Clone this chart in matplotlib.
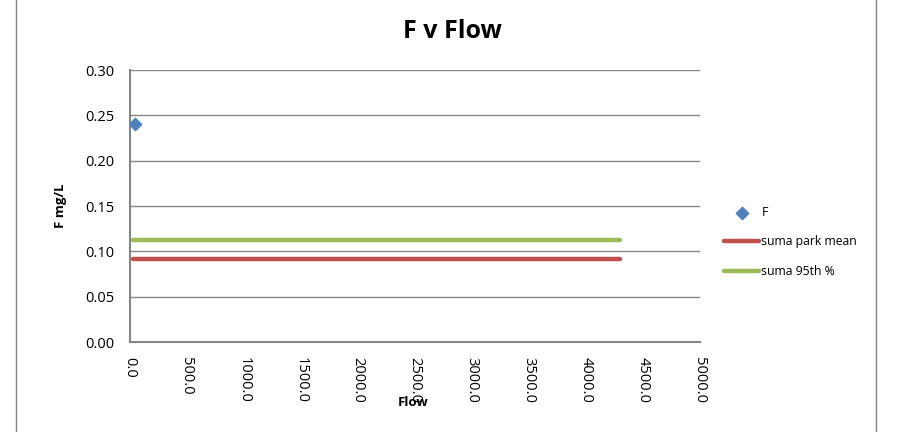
import matplotlib.pyplot as plt

# data
f_flow = [44.0]
f_conc = [0.24]
line_flow = [26.0, 250.0, 600.0, 900.0, 1270.0, 2500.0, 4300.0]
park_mean = [0.091] * len(line_flow)
p95 = [0.113] * len(line_flow)

x_ticks = [0, 500, 1000, 1500, 2000, 2500, 3000, 3500, 4000, 4500, 5000]
y_ticks = [0.00, 0.05, 0.10, 0.15, 0.20, 0.25, 0.30]

plt.rcParams['font.family'] = ['Open Sans', 'DejaVu Sans']

fig = plt.figure(figsize=(9.1, 4.32), dpi=100)
ax = fig.add_axes([130 / 910, 1 - 342 / 432, 570 / 910, 272 / 432])

ax.plot(line_flow, park_mean, color='#c0504d', lw=3.2, solid_capstyle='round',
        label='suma park mean', zorder=3)
ax.plot(line_flow, p95, color='#9bbb59', lw=3.2, solid_capstyle='round',
        label='suma 95th %', zorder=3)
ax.scatter(f_flow, f_conc, marker='D', s=40, color='#4f81bd', label='F', zorder=4)

ax.set_xlim(0, 5000)
ax.set_ylim(0, 0.30)
ax.set_xticks(x_ticks)
ax.set_xticklabels(['%.1f' % v for v in x_ticks], rotation=270, fontsize=10.5)
ax.set_yticks(y_ticks)
ax.set_yticklabels(['%.2f' % v for v in y_ticks], fontsize=10.5)
ax.tick_params(length=0, pad=11)
ax.grid(axis='y', color='#868686', lw=1)
ax.set_axisbelow(True)
for side in ['top', 'right']:
    ax.spines[side].set_visible(False)
for side in ['left', 'bottom']:
    ax.spines[side].set_color('#868686')
    ax.spines[side].set_linewidth(1.5)

fig.text(452 / 910, 1 - 31 / 432, 'F v Flow', fontsize=18, fontweight='bold',
         ha='center', va='center')
ax.set_xlabel('Flow', fontsize=9.5, fontweight='bold')
ax.xaxis.set_label_coords(0.4965, -0.199)
ax.set_ylabel('F mg/L', fontsize=9.5, fontweight='bold')
ax.yaxis.set_label_coords(-0.1105, 0.5)

handles, labels = ax.get_legend_handles_labels()
order = [2, 0, 1]
ax.legend([handles[i] for i in order], [labels[i] for i in order],
          loc='center left', bbox_to_anchor=(1.023, 0.368), frameon=False,
          fontsize=8.8, handlelength=2.85, handletextpad=0.2, labelspacing=1.35)

# chart border
fig.add_artist(plt.Line2D([16 / 910, 16 / 910], [0, 1], color='#868686', lw=1))
fig.add_artist(plt.Line2D([876 / 910, 876 / 910], [0, 1], color='#868686', lw=1))

fig.savefig('out.png', dpi=100)
